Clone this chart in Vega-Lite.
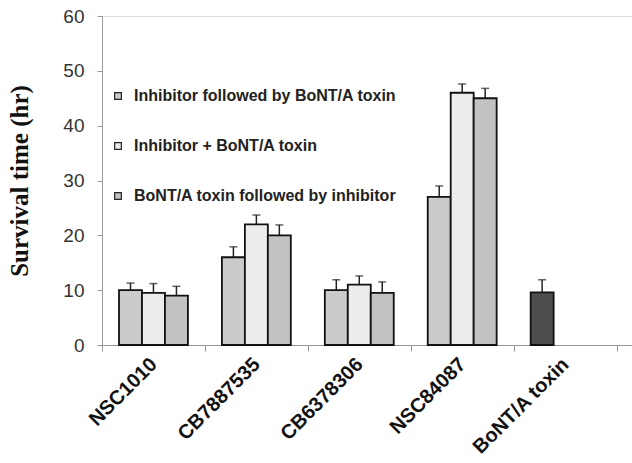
{
  "$schema": "https://vega.github.io/schema/vega-lite/v6.json",
  "autosize": "none",
  "padding": {"left": 102, "top": 16, "right": 0, "bottom": 118},
  "width": 530,
  "height": 329,
  "background": "white",
  "data": {
    "values": [
      {"compound": "NSC1010", "series": "Inhibitor followed by BoNT/A toxin", "slot": "a", "time": 10, "upper": 11.3},
      {"compound": "NSC1010", "series": "Inhibitor + BoNT/A toxin", "slot": "b", "time": 9.5, "upper": 11.2},
      {"compound": "NSC1010", "series": "BoNT/A toxin followed by inhibitor", "slot": "c", "time": 9, "upper": 10.7},
      {"compound": "CB7887535", "series": "Inhibitor followed by BoNT/A toxin", "slot": "a", "time": 16, "upper": 17.9},
      {"compound": "CB7887535", "series": "Inhibitor + BoNT/A toxin", "slot": "b", "time": 22, "upper": 23.7},
      {"compound": "CB7887535", "series": "BoNT/A toxin followed by inhibitor", "slot": "c", "time": 20, "upper": 21.9},
      {"compound": "CB6378306", "series": "Inhibitor followed by BoNT/A toxin", "slot": "a", "time": 10, "upper": 11.9},
      {"compound": "CB6378306", "series": "Inhibitor + BoNT/A toxin", "slot": "b", "time": 11, "upper": 12.6},
      {"compound": "CB6378306", "series": "BoNT/A toxin followed by inhibitor", "slot": "c", "time": 9.5, "upper": 11.5},
      {"compound": "NSC84087", "series": "Inhibitor followed by BoNT/A toxin", "slot": "a", "time": 27, "upper": 29},
      {"compound": "NSC84087", "series": "Inhibitor + BoNT/A toxin", "slot": "b", "time": 46, "upper": 47.6},
      {"compound": "NSC84087", "series": "BoNT/A toxin followed by inhibitor", "slot": "c", "time": 45, "upper": 46.8},
      {"compound": "BoNT/A toxin", "series": "BoNT/A toxin", "slot": "a", "time": 9.6, "upper": 11.9}
    ]
  },
  "encoding": {
    "x": {
      "field": "compound",
      "type": "nominal",
      "sort": null,
      "title": null,
      "scale": {"paddingInner": 0, "paddingOuter": 0.075, "align": 0},
      "axis": {
        "tickBand": "extent",
        "domainColor": "#999999",
        "tickColor": "#999999",
        "tickSize": 6,
        "labelAngle": -45,
        "labelAlign": "right",
        "labelBaseline": "middle",
        "labelFont": "Liberation Sans",
        "labelFontWeight": "bold",
        "labelFontSize": 20,
        "labelColor": "#111111",
        "labelPadding": 10
      }
    },
    "xOffset": {
      "field": "slot",
      "type": "nominal",
      "scale": {"paddingInner": 0, "paddingOuter": 0.74}
    }
  },
  "layer": [
    {
      "mark": {"type": "rule", "color": "#222222", "strokeWidth": 1.5},
      "encoding": {
        "y": {"field": "time", "type": "quantitative"},
        "y2": {"field": "upper"}
      }
    },
    {
      "mark": {"type": "tick", "color": "#222222", "size": 8, "thickness": 1.5},
      "encoding": {
        "y": {"field": "upper", "type": "quantitative"}
      }
    },
    {
      "mark": {"type": "bar", "stroke": "#111111", "strokeWidth": 1.8},
      "encoding": {
        "y": {
          "field": "time",
          "type": "quantitative",
          "title": "Survival time (hr)",
          "scale": {"domain": [0, 60], "nice": false},
          "axis": {
            "values": [0, 10, 20, 30, 40, 50, 60],
            "grid": false,
            "domainColor": "#999999",
            "tickColor": "#999999",
            "tickSize": 5,
            "labelFont": "Liberation Sans",
            "labelFontSize": 19,
            "labelColor": "#333333",
            "labelPadding": 13,
            "titleFont": "Liberation Serif",
            "titleFontWeight": "bold",
            "titleFontSize": 25,
            "titleColor": "#111111",
            "titlePadding": 30
          }
        },
        "fill": {
          "field": "series",
          "type": "nominal",
          "scale": {
            "domain": ["Inhibitor followed by BoNT/A toxin", "Inhibitor + BoNT/A toxin", "BoNT/A toxin followed by inhibitor", "BoNT/A toxin"],
            "range": ["#cbcbcb", "#ececec", "#c2c2c2", "#4d4d4d"]
          },
          "legend": {
            "title": null,
            "values": ["Inhibitor followed by BoNT/A toxin", "Inhibitor + BoNT/A toxin", "BoNT/A toxin followed by inhibitor"],
            "orient": "none",
            "legendX": 8,
            "legendY": 72,
            "symbolType": "square",
            "symbolSize": 45,
            "symbolStrokeColor": "#222222",
            "symbolStrokeWidth": 1.2,
            "labelFont": "Liberation Sans",
            "labelFontWeight": "bold",
            "labelFontSize": 16,
            "labelColor": "#222222",
            "labelOffset": 8,
            "rowPadding": 34,
            "labelLimit": 400
          }
        }
      }
    }
  ]
}
